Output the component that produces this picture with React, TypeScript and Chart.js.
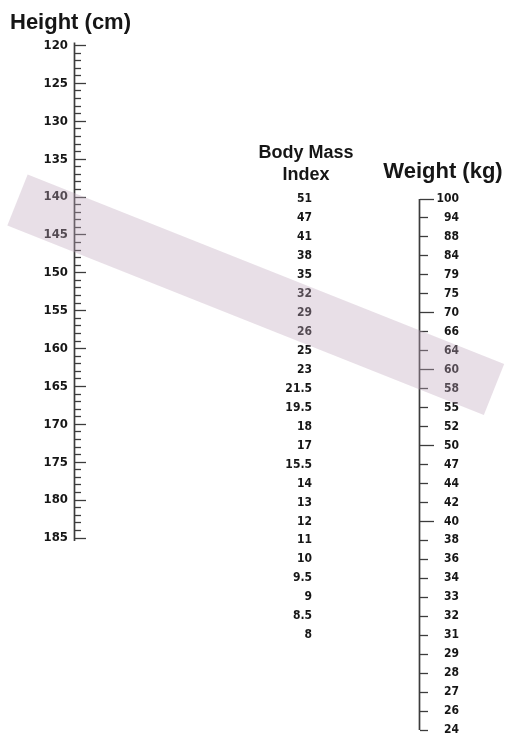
import { useEffect, useRef } from 'react';
import { Chart, registerables } from 'chart.js';

Chart.register(...registerables);

// ---------- data ----------
const heightLabels = [120, 125, 130, 135, 140, 145, 150, 155, 160, 165, 170, 175, 180, 185];
const heightMinorStep = 1;
const bmiLabels = ['51', '47', '41', '38', '35', '32', '29', '26', '25', '23', '21.5', '19.5', '18', '17', '15.5', '14', '13', '12', '11', '10', '9.5', '9', '8.5', '8'];
const weightLabels = ['100', '94', '88', '84', '79', '75', '70', '66', '64', '60', '58', '55', '52', '50', '47', '44', '42', '40', '38', '36', '34', '33', '32', '31', '29', '28', '27', '26', '24'];
const weightLongTicks = ['100', '70', '60', '50', '40'];
// highlighted band: horizontal position along the nomogram and height-scale value of its centre line
const bandColumn = [17.5, 494];
const bandHeight = [140.4, 165.4];

// ---------- layout ----------
const W = 505;
const H = 738;
const X_H_LINE = 74.5;
const X_H_LABEL = 68;
const X_BMI_LABEL = 312;
const X_W_LINE = 419.5;
const X_W_LABEL = 459;
const AXIS = '#3c3c3c';
const TEXT = '#161616';
const TICK_FAMILY = "'DejaVu Sans Condensed', 'Liberation Sans', Arial, sans-serif";
const HEAD_FAMILY = "'Liberation Sans', Arial, sans-serif";

function reversedRange(v0: number, p0: number, v1: number, p1: number, total: number) {
  const k = (p1 - p0) / (v1 - v0);
  const min = v0 - p0 / k;
  return { min, max: min + total / k };
}
const hRange = reversedRange(120, 45.5, 185, 538, H);
const idxRange = reversedRange(0, 199, 28, 730, H);

const zeroPad = (s: any) => {
  s.paddingTop = 0;
  s.paddingBottom = 0;
  s.paddingLeft = 0;
  s.paddingRight = 0;
};

const heightFont = { family: TICK_FAMILY, size: 13, weight: 'bold' as const };
const tickFont = { family: TICK_FAMILY, size: 12, weight: 'bold' as const };

const headingPlugin = {
  id: 'headings',
  afterDraw(chart: any) {
    const ctx = chart.ctx as CanvasRenderingContext2D;
    const yH = chart.scales.yH;
    const yW = chart.scales.yW;
    ctx.save();
    ctx.fillStyle = TEXT;
    ctx.textBaseline = 'alphabetic';
    ctx.font = `bold 22px ${HEAD_FAMILY}`;
    ctx.textAlign = 'left';
    ctx.fillText('Height (cm)', 10, yH.getPixelForValue(120) - 17);
    ctx.textAlign = 'center';
    ctx.font = `bold 18px ${HEAD_FAMILY}`;
    ctx.fillText('Body Mass', 306, yW.getPixelForValue(0) - 41);
    ctx.fillText('Index', 306, yW.getPixelForValue(0) - 19);
    ctx.font = `bold 22px ${HEAD_FAMILY}`;
    ctx.fillText('Weight (kg)', 443, yW.getPixelForValue(0) - 21);
    ctx.restore();
  },
};

export default function App() {
  const ref = useRef<HTMLCanvasElement | null>(null);
  useEffect(() => {
    if (!ref.current) return;
    const hFirst = heightLabels[0];
    const hLast = heightLabels[heightLabels.length - 1];
    const chart = new Chart(ref.current, {
      type: 'scatter',
      data: {
        datasets: [
          {
            type: 'line',
            label: 'band',
            data: bandColumn.map((x, i) => ({ x, y: bandHeight[i] })),
            xAxisID: 'x',
            yAxisID: 'yH',
            borderColor: 'rgba(190,165,188,0.36)',
            borderWidth: 55,
            borderCapStyle: 'butt',
            pointRadius: 0,
            fill: false,
            clip: false as any,
            order: 0,
          },
          {
            type: 'line',
            label: 'height axis',
            data: [
              { x: X_H_LINE, y: hFirst - 0.4 },
              { x: X_H_LINE, y: hLast + 0.4 },
            ],
            xAxisID: 'x',
            yAxisID: 'yH',
            borderColor: AXIS,
            borderWidth: 1.7,
            pointRadius: 0,
            clip: false as any,
            order: 1,
          },
          {
            type: 'line',
            label: 'weight axis',
            data: [
              { x: X_W_LINE, y: 0 },
              { x: X_W_LINE, y: weightLabels.length - 1 },
            ],
            xAxisID: 'x',
            yAxisID: 'yW',
            borderColor: AXIS,
            borderWidth: 1.7,
            pointRadius: 0,
            clip: false as any,
            order: 1,
          },
        ],
      },
      options: {
        responsive: false,
        animation: false,
        events: [],
        layout: { padding: 0 },
        plugins: { legend: { display: false }, tooltip: { enabled: false } },
        scales: {
          x: { type: 'linear', min: 0, max: W, display: false },
          yH: {
            type: 'linear',
            min: hRange.min,
            max: hRange.max,
            reverse: true,
            position: { x: X_H_LINE } as any,
            afterBuildTicks: (s: any) => {
              const t = [];
              for (let v = hFirst; v <= hLast; v += heightMinorStep) t.push({ value: v });
              s.ticks = t;
            },
            afterFit: zeroPad,
            ticks: { display: false },
            border: { display: false },
            grid: {
              drawOnChartArea: false,
              drawTicks: true,
              tickLength: -11,
              tickWidth: 1.3,
              tickColor: AXIS,
              tickBorderDash: (c: any) => (heightLabels.includes(c.tick?.value) ? [] : [6, 40]),
            },
          },
          yHL: {
            type: 'linear',
            min: hRange.min,
            max: hRange.max,
            reverse: true,
            position: { x: X_H_LABEL } as any,
            afterBuildTicks: (s: any) => {
              s.ticks = heightLabels.map((v) => ({ value: v }));
            },
            afterFit: zeroPad,
            border: { display: false },
            grid: { display: false, drawTicks: false },
            ticks: { padding: 0, font: heightFont, color: TEXT, callback: (v: any) => String(v) },
          },
          yB: {
            type: 'linear',
            min: idxRange.min,
            max: idxRange.max,
            reverse: true,
            position: { x: X_BMI_LABEL } as any,
            afterBuildTicks: (s: any) => {
              s.ticks = bmiLabels.map((_, i) => ({ value: i }));
            },
            afterFit: zeroPad,
            border: { display: false },
            grid: { display: false, drawTicks: false },
            ticks: { padding: 0, font: tickFont, color: TEXT, callback: (v: any) => bmiLabels[v] },
          },
          yW: {
            type: 'linear',
            min: idxRange.min,
            max: idxRange.max,
            reverse: true,
            position: { x: X_W_LINE } as any,
            afterBuildTicks: (s: any) => {
              s.ticks = weightLabels.map((_, i) => ({ value: i }));
            },
            afterFit: zeroPad,
            ticks: { display: false },
            border: { display: false },
            grid: {
              drawOnChartArea: false,
              drawTicks: true,
              tickLength: -14,
              tickWidth: 1.3,
              tickColor: AXIS,
              tickBorderDash: (c: any) =>
                weightLongTicks.includes(weightLabels[c.tick?.value]) ? [] : [8, 40],
            },
          },
          yWL: {
            type: 'linear',
            min: idxRange.min,
            max: idxRange.max,
            reverse: true,
            position: { x: X_W_LABEL } as any,
            afterBuildTicks: (s: any) => {
              s.ticks = weightLabels.map((_, i) => ({ value: i }));
            },
            afterFit: zeroPad,
            border: { display: false },
            grid: { display: false, drawTicks: false },
            ticks: { padding: 0, font: tickFont, color: TEXT, callback: (v: any) => weightLabels[v] },
          },
        },
      } as any,
      plugins: [headingPlugin],
    });
    return () => chart.destroy();
  }, []);

  return (
    <div style={{ position: 'fixed', left: 0, top: 0, width: W, height: H, background: '#fff' }}>
      <canvas ref={ref} width={W} height={H} style={{ width: W, height: H, display: 'block' }} />
    </div>
  );
}
